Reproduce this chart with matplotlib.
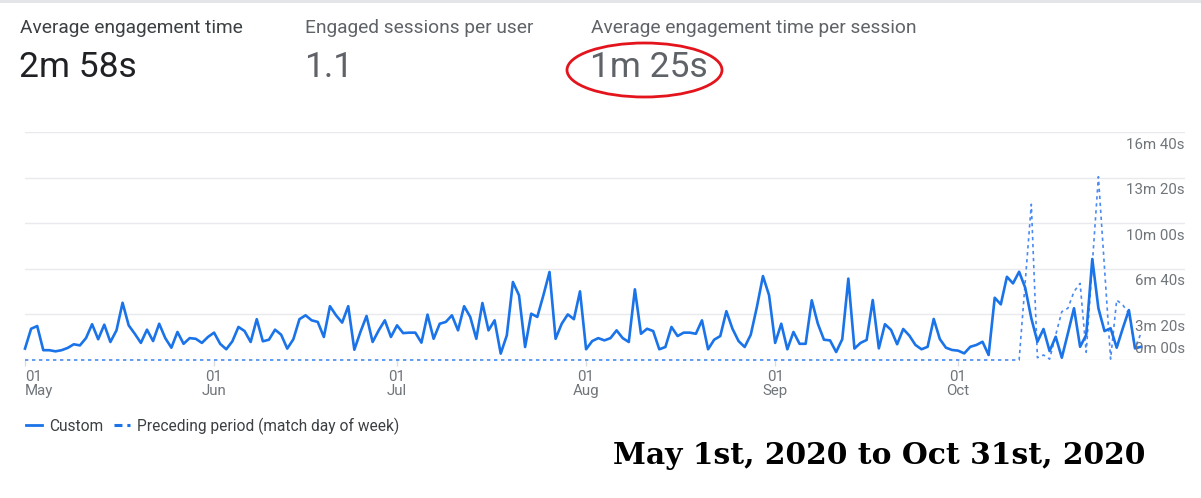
import pandas as pd
import matplotlib
matplotlib.use("Agg")
import matplotlib.pyplot as plt
from matplotlib.patches import Ellipse, Rectangle
from matplotlib.lines import Line2D

W, H = 1201, 498  # output size in pixels


def fx(x):
    return x / W


def fy(y):
    return 1 - y / H


# ---- data (seconds per session, one point per day, May 1 - Oct 31 2020) ----
dates = pd.date_range("2020-05-01", "2020-10-31", freq="D")

custom = [
    50, 137, 149, 43, 43, 38, 43, 53, 69, 64,
    96, 157, 91, 155, 79, 130, 251, 152, 115, 75,
    133, 83, 159, 96, 54, 123, 71, 96, 93, 75,
    101, 120, 71, 47, 82, 145, 127, 79, 179, 82,
    89, 133, 111, 50, 91, 179, 196, 174, 167, 101,
    236, 196, 164, 236, 45, 123, 193, 79, 130, 174,
    101, 152, 118, 120, 120, 76, 199, 93, 159, 167,
    196, 130, 236, 189, 93, 250, 130, 174, 28, 108,
    342, 284, 57, 203, 189, 284, 386, 93, 159, 200,
    179, 301, 47, 83, 96, 86, 96, 130, 96, 79,
    310, 115, 137, 127, 47, 57, 145, 105, 120, 120,
    115, 174, 47, 89, 105, 214, 137, 83, 57, 111,
    232, 368, 284, 75, 159, 47, 123, 71, 71, 262,
    159, 89, 86, 35, 91, 357, 50, 75, 88, 263,
    51, 157, 132, 69, 136, 107, 66, 47, 58, 180,
    92, 54, 44, 41, 29, 58, 66, 80, 22, 273,
    244, 365, 336, 387, 317, 183, 80, 136, 39, 102,
    10, 117, 227, 58, 110, 443, 227, 127, 139, 54,
    139, 219, 51, 58,
]

# preceding period is flat at zero until mid October
preceding = [0] * 164 + [
    342, 683, 10, 22, 4, 110, 212, 227, 300, 336,
    34, 417, 804, 404, 4, 263, 241, 205, 53, 118,
]

yticks = [0, 200, 400, 600, 800, 1000]
ytick_labels = ["0m 00s", "3m 20s", "6m 40s", "10m 00s", "13m 20s", "16m 40s"]

month_ticks = ["2020-05-01", "2020-06-01", "2020-07-01",
               "2020-08-01", "2020-09-01", "2020-10-01"]
month_labels = ["01\nMay", "01\nJun", "01\nJul", "01\nAug", "01\nSep", "01\nOct"]

metric_names = ["Average engagement time", "Engaged sessions per user",
                "Average engagement time per session"]
metric_values = ["2m 58s", "1.1", "1m 25s"]

series_names = ["Custom", "Preceding period (match day of week)"]
range_note = "May 1st, 2020 to Oct 31st, 2020"

# ---- figure ----
plt.rcParams["font.family"] = ["Roboto", "DejaVu Sans"]
fig = plt.figure(figsize=(W / 100, H / 100), dpi=100)
fig.patch.set_facecolor("white")

# thin grey strip along the top edge of the screenshot
fig.patches.append(Rectangle((0, fy(3)), 1, 3 / H, transform=fig.transFigure,
                             facecolor="#e3e5e8", edgecolor="none"))

# metric header
header_x = [20, 305, 591]
name_colors = ["#3c4043", "#5f6368", "#5f6368"]
value_colors = ["#202124", "#5f6368", "#5f6368"]
for x, name, val, nc, vc in zip(header_x, metric_names, metric_values,
                                name_colors, value_colors):
    fig.text(fx(x), fy(33), name, fontsize=13.8, color=nc, va="baseline", ha="left")
    fig.text(fx(x - 1), fy(77), val, fontsize=25.5, color=vc, va="baseline", ha="left")

# red circle around the per-session value
fig.patches.append(Ellipse((fx(644.5), fy(70)), 155 / W, 54 / H,
                           transform=fig.transFigure, fill=False,
                           edgecolor="#e3141b", linewidth=2.0))

# ---- chart ----
ax = fig.add_axes([fx(25), fy(360), 1160 / W, 228 / H])
ax.plot(dates, preceding, color="#4a8af4", lw=1.2, dashes=(2, 2.2),
        clip_on=False, zorder=3)
ax.plot(dates, custom, color="#1a73e8", lw=1.9, clip_on=False, zorder=4)

ax.set_ylim(0, 1000)
ax.set_xlim(dates[0], dates[0] + pd.Timedelta(days=190.2))
ax.set_yticks(yticks)
ax.grid(axis="y", color="#e8eaed", lw=1)
ax.set_axisbelow(True)
ax.tick_params(axis="y", length=0, labelleft=False)
for s in ax.spines.values():
    s.set_visible(False)

ax.set_xticks(pd.to_datetime(month_ticks))
ax.set_xticklabels(month_labels, linespacing=1.05)
ax.tick_params(axis="x", length=4, width=1, color="#dadce0", pad=3,
               labelsize=10.8, labelcolor="#70757a")
first = ax.get_xticklabels()[0]
first.set_ha("left")
first.set_multialignment("left")

# y labels sit just under each gridline (the zero label sits above it)
for v, lab in zip(yticks, ytick_labels):
    if v == 0:
        off, va = 3, "bottom"
    else:
        off, va = -4, "top"
    ax.annotate(lab, xy=(1, v), xycoords=("axes fraction", "data"),
                xytext=(0, off), textcoords="offset points",
                ha="right", va=va, fontsize=10.8, color="#70757a", zorder=5)

# legend
handles = [Line2D([], [], color="#1a73e8", lw=2.0),
           Line2D([], [], color="#1a73e8", lw=2.2, dashes=(2.6, 1.6))]
fig.legend(handles, series_names, loc="center left", bbox_to_anchor=(fx(26), fy(426)),
           ncol=2, frameon=False, fontsize=11.2, handlelength=1.05,
           handletextpad=0.45, columnspacing=0.65, borderpad=0, borderaxespad=0,
           labelcolor="#3c4043")

# date range note
fig.text(fx(613), fy(464), range_note, fontsize=21.4, fontweight="bold",
         family="DejaVu Serif", color="black", va="baseline", ha="left")

fig.savefig("out.png", dpi=100, facecolor="white")
